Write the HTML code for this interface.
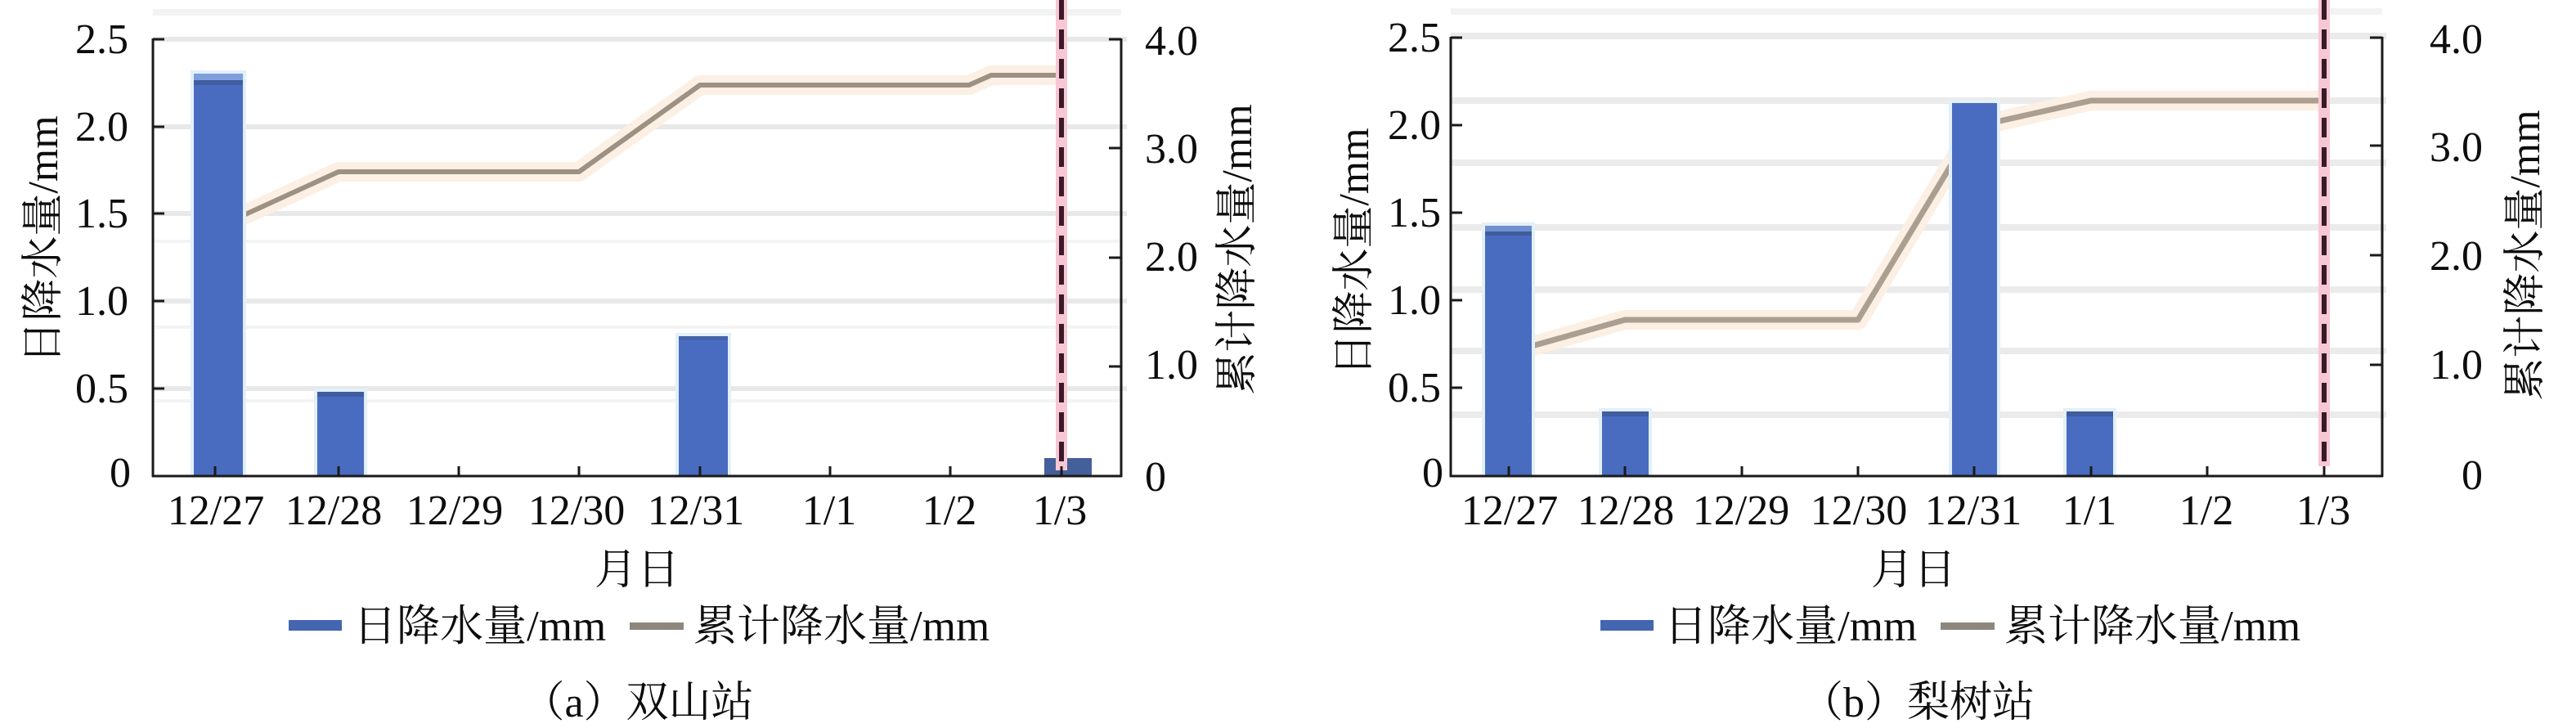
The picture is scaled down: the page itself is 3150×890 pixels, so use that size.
<!DOCTYPE html>
<html><head><meta charset="utf-8"><style>
html,body{margin:0;padding:0;background:#fff;}
svg{display:block;}
text{font-family:"Liberation Serif","Noto Serif CJK SC","Noto Sans CJK SC",serif;fill:#0d0d0d;}
</style></head><body>
<svg width="3150" height="890" viewBox="0 0 3150 890" xmlns="http://www.w3.org/2000/svg" font-family="'Liberation Serif','Noto Serif CJK SC','Noto Sans CJK SC',serif">
<rect width="3150" height="890" fill="#fff"/>

<!-- ================= LEFT CHART (a) ================= -->
<g>
  <line x1="187" y1="15" x2="1371" y2="15" stroke="#f3f3f3" stroke-width="8"/>
  <g stroke="#e8e8e8" stroke-width="6">
    <line x1="187" y1="48" x2="1378" y2="48"/>
    <line x1="187" y1="155" x2="1378" y2="155"/>
    <line x1="187" y1="261" x2="1378" y2="261"/>
    <line x1="187" y1="368" x2="1378" y2="368"/>
    <line x1="187" y1="475" x2="1378" y2="475"/>
  </g>
  <g stroke="#f4f4f4" stroke-width="4">
    <line x1="187" y1="295" x2="1371" y2="295"/>
    <line x1="187" y1="400" x2="1371" y2="400"/>
    <line x1="187" y1="490" x2="1371" y2="490"/>
  </g>

  <polyline points="263,279 414,210 708,210 856,104 1185,104 1212,92 1298,92" fill="none" stroke="#fcefe3" stroke-width="24" stroke-linejoin="round"/>
  <polyline points="263,279 414,210 708,210 856,104 1185,104 1212,92 1298,92" fill="none" stroke="#9d9184" stroke-width="6" stroke-linejoin="round"/>

  <g>
    <rect x="233" y="86" width="68" height="496" fill="#e2f0fa"/>
    <rect x="237" y="90" width="60" height="492" fill="#4a6cc0"/>
    <rect x="237" y="90" width="60" height="8" fill="#7e9fdc"/>
    <rect x="237" y="98" width="60" height="6" fill="#3f5d9f"/>

    <rect x="384" y="475" width="65" height="107" fill="#e2f0fa"/>
    <rect x="388" y="479" width="57" height="103" fill="#4a6cc0"/>
    <rect x="388" y="479" width="57" height="6" fill="#3f5d9f"/>

    <rect x="826" y="407" width="68" height="175" fill="#e2f0fa"/>
    <rect x="830" y="411" width="60" height="171" fill="#4a6cc0"/>
    <rect x="830" y="411" width="60" height="5" fill="#4563a8"/>

    <rect x="1277" y="560" width="58" height="22" fill="#44609a"/>
  </g>

  <line x1="1298" y1="0" x2="1298" y2="575" stroke="#f7c8d4" stroke-width="14"/>
  <line x1="1298" y1="0" x2="1298" y2="575" stroke="#3a1a28" stroke-width="6" stroke-dasharray="24 12"/>

  <g stroke="#1a1a1a" stroke-width="3" fill="none">
    <line x1="187" y1="47" x2="187" y2="583"/>
    <line x1="1371" y1="47" x2="1371" y2="583"/>
    <line x1="186" y1="582" x2="1372" y2="582"/>
    <line x1="187" y1="48" x2="201" y2="48"/>
    <line x1="187" y1="155" x2="201" y2="155"/>
    <line x1="187" y1="261" x2="201" y2="261"/>
    <line x1="187" y1="368" x2="201" y2="368"/>
    <line x1="187" y1="475" x2="201" y2="475"/>
    <line x1="1356" y1="48" x2="1371" y2="48"/>
    <line x1="1356" y1="181" x2="1371" y2="181"/>
    <line x1="1356" y1="315" x2="1371" y2="315"/>
    <line x1="1356" y1="448" x2="1371" y2="448"/>
    <line x1="263" y1="570" x2="263" y2="582"/>
    <line x1="414" y1="570" x2="414" y2="582"/>
    <line x1="561" y1="570" x2="561" y2="582"/>
    <line x1="708" y1="570" x2="708" y2="582"/>
    <line x1="856" y1="570" x2="856" y2="582"/>
    <line x1="1015" y1="570" x2="1015" y2="582"/>
    <line x1="1162" y1="570" x2="1162" y2="582"/>
    <line x1="1298" y1="570" x2="1298" y2="582"/>
  </g>

  <g font-size="52" text-anchor="end">
    <text x="157" y="65">2.5</text>
    <text x="157" y="172">2.0</text>
    <text x="157" y="278">1.5</text>
    <text x="157" y="385">1.0</text>
    <text x="157" y="492">0.5</text>
    <text x="160" y="595">0</text>
  </g>
  <g font-size="52" text-anchor="start">
    <text x="1400" y="67">4.0</text>
    <text x="1400" y="199">3.0</text>
    <text x="1400" y="331">2.0</text>
    <text x="1400" y="463">1.0</text>
    <text x="1400" y="600">0</text>
  </g>
  <g font-size="52" text-anchor="middle">
    <text x="264" y="641">12/27</text>
    <text x="408" y="641">12/28</text>
    <text x="556" y="641">12/29</text>
    <text x="705" y="641">12/30</text>
    <text x="851" y="641">12/31</text>
    <text x="1014" y="641">1/1</text>
    <text x="1161" y="641">1/2</text>
    <text x="1296" y="641">1/3</text>
  </g>
  <text font-size="52" text-anchor="middle" transform="translate(70,293) rotate(-90)">日降水量/mm</text>
  <text font-size="52" text-anchor="middle" transform="translate(1530,305) rotate(-90)">累计降水量/mm</text>
  <text font-size="52" text-anchor="middle" x="779" y="714">月日</text>

  <rect x="353" y="758" width="65" height="13" fill="#4466b0"/>
  <text font-size="53" x="432" y="783">日降水量/mm</text>
  <rect x="770" y="761" width="66" height="9" fill="#8e877c"/>
  <text font-size="53" x="848" y="783">累计降水量/mm</text>

  <text font-size="52" text-anchor="middle" x="780" y="876">（a）双山站</text>
</g>

<!-- ================= RIGHT CHART (b) ================= -->
<g>
  <line x1="1774" y1="14" x2="2913" y2="14" stroke="#f3f3f3" stroke-width="8"/>
  <g stroke="#ebebeb" stroke-width="8">
    <line x1="1774" y1="44" x2="2918" y2="44"/>
    <line x1="1774" y1="123" x2="2918" y2="123"/>
    <line x1="1774" y1="199" x2="2918" y2="199"/>
    <line x1="1774" y1="278" x2="2918" y2="278"/>
    <line x1="1774" y1="354" x2="2918" y2="354"/>
    <line x1="1774" y1="429" x2="2918" y2="429"/>
    <line x1="1774" y1="507" x2="2918" y2="507"/>
  </g>

  <polyline points="1845,431 1987,391 2272,391 2414,155 2557,123 2842,123" fill="none" stroke="#fcefe3" stroke-width="24" stroke-linejoin="round"/>
  <polyline points="1845,431 1987,391 2272,391 2414,155 2557,123 2842,123" fill="none" stroke="#ab9f92" stroke-width="7" stroke-linejoin="round"/>

  <g>
    <rect x="1812" y="272" width="65" height="310" fill="#e2f0fa"/>
    <rect x="1816" y="276" width="57" height="306" fill="#4a6cc0"/>
    <rect x="1816" y="276" width="57" height="7" fill="#6f8fcf"/>
    <rect x="1816" y="283" width="57" height="5" fill="#3f5d9f"/>

    <rect x="1955" y="499" width="65" height="83" fill="#e2f0fa"/>
    <rect x="1959" y="503" width="57" height="79" fill="#4a6cc0"/>
    <rect x="1959" y="503" width="57" height="6" fill="#3f5d9f"/>

    <rect x="2383" y="122" width="63" height="460" fill="#e2f0fa"/>
    <rect x="2387" y="126" width="55" height="456" fill="#4a6cc0"/>

    <rect x="2523" y="499" width="65" height="83" fill="#e2f0fa"/>
    <rect x="2527" y="503" width="57" height="79" fill="#4a6cc0"/>
    <rect x="2527" y="503" width="57" height="6" fill="#3f5d9f"/>
  </g>

  <line x1="2842" y1="0" x2="2842" y2="570" stroke="#f7c8d4" stroke-width="14"/>
  <line x1="2842" y1="0" x2="2842" y2="570" stroke="#3a1a28" stroke-width="6" stroke-dasharray="24 12"/>

  <g stroke="#1a1a1a" stroke-width="3" fill="none">
    <line x1="1774" y1="45" x2="1774" y2="583"/>
    <line x1="2913" y1="45" x2="2913" y2="583"/>
    <line x1="1773" y1="582" x2="2914" y2="582"/>
    <line x1="1774" y1="46" x2="1788" y2="46"/>
    <line x1="1774" y1="153" x2="1788" y2="153"/>
    <line x1="1774" y1="260" x2="1788" y2="260"/>
    <line x1="1774" y1="367" x2="1788" y2="367"/>
    <line x1="1774" y1="474" x2="1788" y2="474"/>
    <line x1="2898" y1="46" x2="2913" y2="46"/>
    <line x1="2898" y1="178" x2="2913" y2="178"/>
    <line x1="2898" y1="312" x2="2913" y2="312"/>
    <line x1="2898" y1="446" x2="2913" y2="446"/>
    <line x1="1845" y1="570" x2="1845" y2="582"/>
    <line x1="1987" y1="570" x2="1987" y2="582"/>
    <line x1="2130" y1="570" x2="2130" y2="582"/>
    <line x1="2272" y1="570" x2="2272" y2="582"/>
    <line x1="2414" y1="570" x2="2414" y2="582"/>
    <line x1="2557" y1="570" x2="2557" y2="582"/>
    <line x1="2699" y1="570" x2="2699" y2="582"/>
    <line x1="2842" y1="570" x2="2842" y2="582"/>
  </g>

  <g font-size="52" text-anchor="end">
    <text x="1762" y="63">2.5</text>
    <text x="1762" y="170">2.0</text>
    <text x="1762" y="277">1.5</text>
    <text x="1762" y="384">1.0</text>
    <text x="1762" y="491">0.5</text>
    <text x="1765" y="595">0</text>
  </g>
  <g font-size="52" text-anchor="end">
    <text x="3036" y="65">4.0</text>
    <text x="3036" y="197">3.0</text>
    <text x="3036" y="330">2.0</text>
    <text x="3036" y="463">1.0</text>
    <text x="3036" y="598">0</text>
  </g>
  <g font-size="52" text-anchor="middle">
    <text x="1846" y="641">12/27</text>
    <text x="1988" y="641">12/28</text>
    <text x="2129" y="641">12/29</text>
    <text x="2273" y="641">12/30</text>
    <text x="2413" y="641">12/31</text>
    <text x="2555" y="641">1/1</text>
    <text x="2698" y="641">1/2</text>
    <text x="2841" y="641">1/3</text>
  </g>
  <text font-size="52" text-anchor="middle" transform="translate(1673,308) rotate(-90)">日降水量/mm</text>
  <text font-size="52" text-anchor="middle" transform="translate(3105,312) rotate(-90)">累计降水量/mm</text>
  <text font-size="52" text-anchor="middle" x="2340" y="714">月日</text>

  <rect x="1957" y="758" width="65" height="13" fill="#4466b0"/>
  <text font-size="53" x="2035" y="783">日降水量/mm</text>
  <rect x="2373" y="761" width="66" height="9" fill="#8e877c"/>
  <text font-size="53" x="2451" y="783">累计降水量/mm</text>

  <text font-size="52" text-anchor="middle" x="2345" y="876">（b）梨树站</text>
</g>
</svg>
</body></html>
